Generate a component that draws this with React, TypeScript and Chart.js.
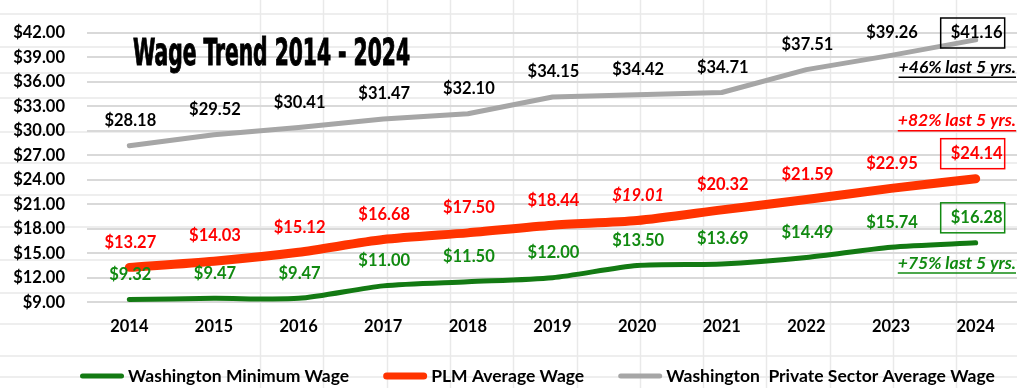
import React, { useEffect, useRef } from "react";
import { Chart, registerables } from "chart.js";

Chart.register(...registerables);

// ---------- data ----------
const years = ["2014", "2015", "2016", "2017", "2018", "2019", "2020", "2021", "2022", "2023", "2024"];
const minimumWage = [9.32, 9.47, 9.47, 11.0, 11.5, 12.0, 13.5, 13.69, 14.49, 15.74, 16.28];
const plmWage = [13.27, 14.03, 15.12, 16.68, 17.5, 18.44, 19.01, 20.32, 21.59, 22.95, 24.14];
const privateWage = [28.18, 29.52, 30.41, 31.47, 32.1, 34.15, 34.42, 34.71, 37.51, 39.26, 41.16];
const seriesNames = ["Washington Minimum Wage", "PLM Average Wage", "Washington  Private Sector Average Wage"];
const yMin = 9;
const yMax = 42;
const yStep = 3;
const titleText = "Wage Trend 2014 - 2024";
// value level (y axis units) at which each growth note is written
const noteLevels = [13.8, 31.25, 37.8];

const FONT = "Lato, 'Open Sans', sans-serif";

const sheetPlugin = {
  id: "sheet",
  beforeDraw(chart: any) {
    const ctx = chart.ctx;
    ctx.save();
    ctx.fillStyle = "#ffffff";
    ctx.fillRect(0, 0, chart.width, chart.height);
    ctx.strokeStyle = "#e9e9e9";
    ctx.lineWidth = 1.5;
    const rows = [14, 47, 73, 98, 132, 163, 195, 227, 260, 293, 324, 356, 377];
    rows.forEach((y) => {
      ctx.beginPath();
      ctx.moveTo(0, y);
      ctx.lineTo(chart.width, y);
      ctx.stroke();
    });
    for (let x = 260; x < chart.width; x += 63.3) {
      ctx.beginPath();
      ctx.moveTo(Math.round(x) + 0.5, 0);
      ctx.lineTo(Math.round(x) + 0.5, chart.height);
      ctx.stroke();
    }
    ctx.restore();
  },
};

const labelPlugin = {
  id: "valueLabels",
  afterDatasetsDraw(chart: any) {
    const ctx = chart.ctx;
    const top = chart.chartArea.top;
    ctx.save();
    chart.data.datasets.forEach((ds: any, i: number) => {
      const meta = chart.getDatasetMeta(i);
      meta.data.forEach((pt: any, j: number) => {
        const v = ds.data[j];
        let y = pt.y - 25;
        if (y < top) y = top;
        const italic = (ds.italicIdx || []).includes(j);
        ctx.font = `${italic ? "italic " : ""}bold 16.5px ${FONT}`;
        ctx.fillStyle = ds.labelColor;
        ctx.textAlign = "center";
        ctx.textBaseline = "middle";
        ctx.fillText("$" + v.toFixed(2), pt.x + 1, y);
        if (j === meta.data.length - 1) {
          ctx.strokeStyle = ds.boxColor;
          ctx.lineWidth = 1.5;
          ctx.strokeRect(pt.x - 35, y - 15, 64, 30);
        }
      });
    });
    ctx.restore();
  },
};

const notesPlugin = {
  id: "notes",
  afterDraw(chart: any) {
    const ctx = chart.ctx;
    const ys = chart.scales.y;
    ctx.save();
    chart.data.datasets.forEach((ds: any, i: number) => {
      const first = ds.data[0];
      const last = ds.data[ds.data.length - 1];
      const pct = Math.round((last / first - 1) * 100);
      const txt = `+${pct}% last 5 yrs.`;
      const y = ys.getPixelForValue(noteLevels[i]);
      ctx.font = `italic bold 17.5px ${FONT}`;
      ctx.fillStyle = ds.labelColor;
      ctx.textAlign = "right";
      ctx.textBaseline = "middle";
      const right = 1016;
      ctx.fillText(txt, right, y);
      const w = ctx.measureText(txt).width;
      ctx.strokeStyle = ds.labelColor;
      ctx.lineWidth = 1.5;
      ctx.beginPath();
      ctx.moveTo(right - w, y + 10);
      ctx.lineTo(right, y + 10);
      ctx.stroke();
    });
    ctx.restore();
  },
};

const titlePlugin = {
  id: "bigTitle",
  afterDraw(chart: any) {
    const ctx = chart.ctx;
    ctx.save();
    ctx.font = "bold 37px 'DejaVu Sans Condensed', 'DejaVu Sans', sans-serif";
    const w = ctx.measureText(titleText).width;
    const targetW = 277;
    ctx.translate(133, 65);
    ctx.scale(targetW / w, 1);
    ctx.fillStyle = "#000";
    ctx.strokeStyle = "#000";
    ctx.lineWidth = 1;
    ctx.textAlign = "left";
    ctx.textBaseline = "alphabetic";
    ctx.fillText(titleText, 0, 0);
    ctx.strokeText(titleText, 0, 0);
    ctx.restore();
  },
};

const legendPlugin = {
  id: "customLegend",
  afterDraw(chart: any) {
    const ctx = chart.ctx;
    ctx.save();
    let x = 80;
    const y = 376;
    ctx.font = `bold 17.5px ${FONT}`;
    ctx.textBaseline = "middle";
    ctx.textAlign = "left";
    chart.data.datasets.forEach((ds: any) => {
      const lw = Math.min(ds.borderWidth, 7);
      ctx.strokeStyle = ds.borderColor;
      ctx.lineWidth = lw;
      ctx.lineCap = "round";
      ctx.beginPath();
      ctx.moveTo(x + lw / 2, y);
      ctx.lineTo(x + 44 - lw / 2, y);
      ctx.stroke();
      x += 48;
      ctx.fillStyle = "#000";
      ctx.fillText(ds.label, x, y);
      x += ctx.measureText(ds.label).width + 34;
    });
    ctx.restore();
  },
};

export default function App() {
  const ref = useRef<HTMLCanvasElement>(null);
  useEffect(() => {
    const tickFont = { family: FONT, size: 16.5, weight: "bold" as const };
    const chart = new Chart(ref.current!, {
      type: "line",
      data: {
        labels: years,
        datasets: [
          {
            label: seriesNames[0],
            data: minimumWage,
            borderColor: "#137a13",
            borderWidth: 5,
            tension: 0.25,
            labelColor: "#118a11",
            boxColor: "#118a11",
          } as any,
          {
            label: seriesNames[1],
            data: plmWage,
            borderColor: "#ff3300",
            borderWidth: 9,
            tension: 0.25,
            labelColor: "#ff0000",
            boxColor: "#ff0000",
            italicIdx: [6],
          } as any,
          {
            label: seriesNames[2],
            data: privateWage,
            borderColor: "#a6a6a6",
            borderWidth: 5,
            tension: 0,
            labelColor: "#000000",
            boxColor: "#000000",
          } as any,
        ],
      },
      options: {
        responsive: false,
        animation: false,
        layout: { padding: { top: 33, left: 0, right: 22, bottom: 36 } },
        elements: {
          point: { radius: 0, hoverRadius: 0 },
          line: { borderCapStyle: "round", borderJoinStyle: "round" },
        },
        plugins: {
          legend: { display: false },
          tooltip: { enabled: false },
          title: { display: false },
        },
        scales: {
          x: {
            offset: true,
            grid: { display: false, drawTicks: false },
            border: { display: false },
            ticks: { padding: 15, color: "#000", font: tickFont },
          },
          y: {
            min: yMin,
            max: yMax,
            ticks: {
              stepSize: yStep,
              padding: 22,
              color: "#000",
              font: tickFont,
              callback: (v: any) => "$" + Number(v).toFixed(2),
            },
            grid: { color: "#d9d9d9", lineWidth: 2, drawTicks: false },
            border: { display: false },
            afterFit: (s: any) => {
              s.width = 87;
            },
          },
        },
      },
      plugins: [sheetPlugin, labelPlugin, notesPlugin, titlePlugin, legendPlugin],
    });
    return () => chart.destroy();
  }, []);
  return (
    <div
      style={{
        position: "fixed",
        left: 0,
        top: 0,
        width: 1017,
        height: 388,
        overflow: "hidden",
        background: "#fff",
      }}
    >
      <canvas ref={ref} width={1040} height={388} style={{ display: "block" }} />
    </div>
  );
}
